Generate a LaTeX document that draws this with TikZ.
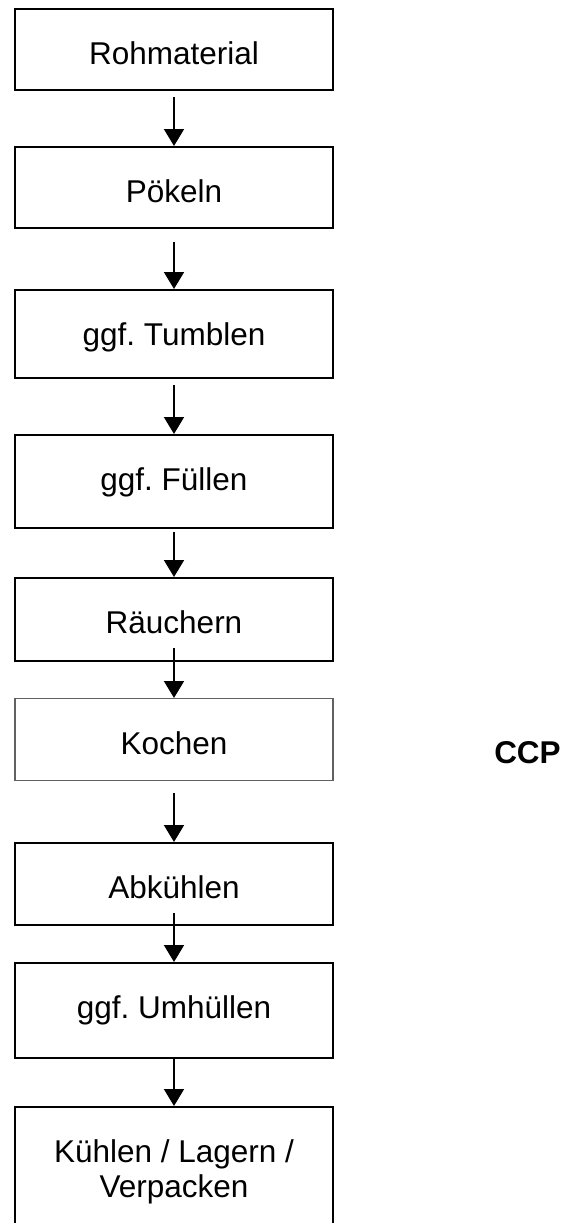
\documentclass[tikz,border=0pt]{standalone}
\usepackage{fontspec}
\setmainfont{Liberation Sans}
\usetikzlibrary{arrows.meta}
\frenchspacing

\begin{document}
\begin{tikzpicture}[x=1pt,y=-1pt,
  every node/.style={font=\fontsize{31.5}{35}\selectfont},
  stepbox/.style={draw=black, line width=2pt, rectangle, anchor=north,
    minimum width=318pt, inner xsep=0pt, inner ysep=0pt,
    text height=55pt, align=center},
  flow/.style={-{Triangle[width=20pt,length=17pt]}, line width=1.8pt, draw=black}]
  \useasboundingbox (0,0) rectangle (573,1223);
  \clip (0,0) rectangle (573,1223);

  % process steps
  \node[stepbox, text depth=26pt] (b1) at (174,8)   {Rohmaterial};
  \node[stepbox, text depth=26pt] (b2) at (174,146) {Pökeln};
  \node[stepbox, text depth=33pt] (b3) at (174,289) {ggf. Tumblen};
  \node[stepbox, text depth=38pt] (b4) at (174,434) {ggf. Füllen};
  \node[stepbox, text depth=28pt] (b5) at (174,577) {Räuchern};
  \node[stepbox, draw=black!62, line width=1.3pt, text height=55.35pt,
        text depth=26.35pt] (b6) at (174,698) {Kochen};
  \node[stepbox, text depth=27pt] (b7) at (174,842) {Abkühlen};
  \node[stepbox, text depth=40pt] (b8) at (174,962) {ggf. Umhüllen};
  \node[stepbox, text height=90pt, text depth=45pt] (b9) at (174,1106)
    {Kühlen / Lagern /\\Verpacken};

  % critical control point marker
  \node[font=\fontsize{31.5}{35}\selectfont\bfseries, inner sep=0pt, anchor=base]
    (ccp) at (527.5,763) {CCP};

  % connectors
  \draw[flow] ([yshift=-6pt]b1.south)  -- (b2.north);
  \draw[flow] ([yshift=-13pt]b2.south) -- (b3.north);
  \draw[flow] ([yshift=-6pt]b3.south)  -- (b4.north);
  \draw[flow] ([yshift=-3pt]b4.south)  -- (b5.north);
  \draw[flow] ([yshift=14pt]b5.south)  -- (b6.north);
  \draw[flow] ([yshift=-12pt]b6.south) -- (b7.north);
  \draw[flow] ([yshift=13pt]b7.south)  -- (b8.north);
  \draw[flow] ([yshift=2pt]b8.south)   -- (b9.north);
\end{tikzpicture}
\end{document}
